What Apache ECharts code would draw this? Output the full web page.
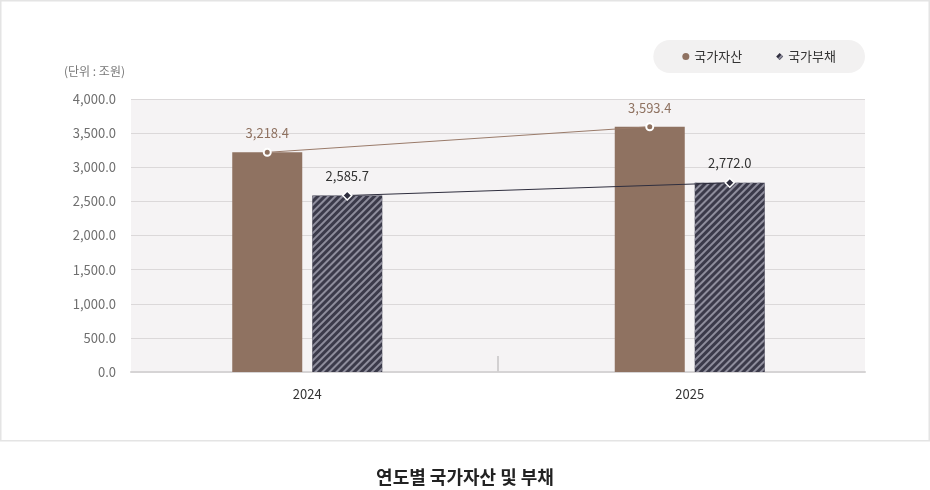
<!DOCTYPE html>
<html>
<head>
<meta charset="utf-8">
<script src="https://cdn.jsdelivr.net/npm/echarts@6/dist/echarts.min.js"></script>
<style>
  html, body { margin: 0; padding: 0; background: #fff; }
  #chart { width: 930px; height: 490px; }
</style>
</head>
<body>
<div id="chart"></div>
<script>
// 데이터
const years = ['2024', '2025'];
const assets = [3218.4, 3593.4];
const debts = [2585.7, 2772.0];
const yTicks = [0, 500, 1000, 1500, 2000, 2500, 3000, 3500, 4000];

const assetColor = '#8f7261';
const debtColor = '#3b3a4a';
const font = 'Noto Sans CJK KR';

// 막대 배치
const barWidth = 70;
const barGapPx = 10;
const seriesLeft = 116, seriesRight = 49;
const catWidth = (930 - seriesLeft - seriesRight) / years.length;
const off = (barWidth + barGapPx) / 2 / catWidth;

function fmt(v) {
    return v.toLocaleString('en-US', { minimumFractionDigits: 1, maximumFractionDigits: 1 });
}

const chart = echarts.init(document.getElementById('chart'));
const option = {
    textStyle: { fontFamily: font },
    animation: false,
    title: {
        text: '연도별 국가자산 및 부채',
        left: 'center',
        top: 463,
        textStyle: { fontSize: 18, fontWeight: 'bold', color: '#222', fontFamily: font }
    },
    graphic: [{
        type: 'rect',
        shape: { x: 0.75, y: 0.75, width: 928.5, height: 440 },
        style: { fill: 'none', stroke: '#e4e4e4', lineWidth: 1.5 },
        silent: true
    }],
    legend: {
        right: 65,
        top: 40,
        backgroundColor: '#f2f1f1',
        borderRadius: 18,
        padding: [10, 29, 10, 29],
        itemWidth: 7,
        itemHeight: 7,
        itemGap: 34,
        textStyle: { fontSize: 13, color: '#333', fontFamily: font },
        data: [
            { name: '국가자산', icon: 'circle', itemStyle: { color: assetColor, borderWidth: 0 } },
            { name: '국가부채', icon: 'diamond', itemStyle: { color: '#2f2e3e', borderWidth: 0 } }
        ]
    },
    grid: [
        { left: 131, right: 65, top: 99, bottom: 118, show: true, backgroundColor: '#f5f3f4', borderWidth: 0 },
        { left: seriesLeft, right: seriesRight, top: 99, bottom: 118 }
    ],
    xAxis: [
        {
            type: 'value', gridIndex: 0, min: 0, max: 2, interval: 1,
            axisLine: { show: true, onZero: false, lineStyle: { color: '#d6d4d5', width: 2 } },
            axisTick: { show: true, inside: true, length: 16, customValues: [1], lineStyle: { color: '#d2d0d1', width: 2 } },
            axisLabel: { show: false },
            splitLine: { show: false }
        },
        {
            type: 'category', gridIndex: 1, data: years,
            axisLine: { show: false },
            axisTick: { show: false },
            axisLabel: { color: '#333', fontSize: 13, margin: 16, fontFamily: font }
        },
        {
            type: 'value', gridIndex: 1, min: -0.5, max: years.length - 0.5,
            show: false
        }
    ],
    yAxis: [
        {
            type: 'value', gridIndex: 0, min: 0, max: yTicks[yTicks.length - 1], interval: 500,
            name: '(단위 : 조원)',
            nameLocation: 'end',
            nameGap: 22,
            nameTextStyle: { align: 'right', color: '#777', fontSize: 12, padding: [0, 6, 0, 0], fontFamily: font },
            axisLine: { show: false },
            axisTick: { show: false },
            axisLabel: { color: '#6f6f6f', fontSize: 13, margin: 15, formatter: v => fmt(v), fontFamily: font },
            splitLine: { lineStyle: { color: '#dbd8d9', width: 1 } }
        },
        {
            type: 'value', gridIndex: 1, min: 0, max: yTicks[yTicks.length - 1], show: false
        }
    ],
    series: [
        {
            name: '국가자산', type: 'bar', xAxisIndex: 1, yAxisIndex: 1,
            data: assets, barWidth: barWidth, barGap: (barGapPx / barWidth * 100) + '%',
            itemStyle: { color: assetColor },
            z: 2
        },
        {
            name: '국가부채', type: 'bar', xAxisIndex: 1, yAxisIndex: 1,
            data: debts, barWidth: barWidth,
            itemStyle: {
                color: debtColor,
                decal: {
                    symbol: 'rect',
                    symbolSize: 1,
                    color: '#8e8d9c',
                    dashArrayX: [[1, 0]],
                    dashArrayY: [2, 2.5],
                    rotation: -Math.PI / 4
                }
            },
            z: 2
        },
        {
            name: '국가자산', type: 'line', xAxisIndex: 2, yAxisIndex: 1,
            data: assets.map((v, i) => [i - off, v]),
            lineStyle: { color: '#9a7b6a', width: 1 },
            symbol: 'circle', symbolSize: 7,
            itemStyle: { color: assetColor, borderColor: '#fff', borderWidth: 2 },
            label: { show: true, position: 'top', distance: 8, color: assetColor, fontSize: 13, formatter: p => fmt(p.value[1]), fontFamily: font },
            z: 5
        },
        {
            name: '국가부채', type: 'line', xAxisIndex: 2, yAxisIndex: 1,
            data: debts.map((v, i) => [i + off, v]),
            lineStyle: { color: '#2f2e3e', width: 1 },
            symbol: 'diamond', symbolSize: 9,
            itemStyle: { color: '#2f2e3e', borderColor: '#fff', borderWidth: 1.5 },
            label: { show: true, position: 'top', distance: 8, color: '#333', fontSize: 13, formatter: p => fmt(p.value[1]), fontFamily: font },
            z: 5
        }
    ]
};
chart.setOption(option);
</script>
</body>
</html>
